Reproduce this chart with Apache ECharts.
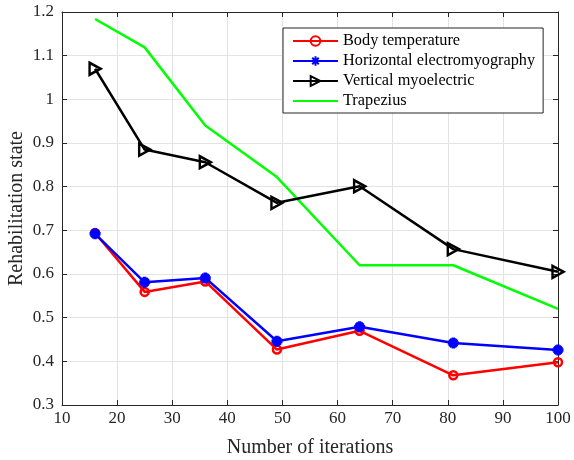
<!DOCTYPE html>
<html>
<head>
<meta charset="utf-8">
<script src="https://cdn.jsdelivr.net/npm/echarts@6/dist/echarts.min.js"></script>
<style>
html,body{margin:0;padding:0;background:#fff;}
#chart{width:574px;height:460px;}
</style>
</head>
<body>
<div id="chart"></div>
<script>
// Iteration counts along the x axis
const iterations = [16, 25, 36, 49, 64, 81, 100];
// Rehabilitation state per signal source
const bodyTemperature = [0.694, 0.559, 0.583, 0.427, 0.470, 0.368, 0.398];
const horizontalEMG   = [0.692, 0.581, 0.591, 0.446, 0.479, 0.442, 0.426];
const verticalEMG     = [1.070, 0.885, 0.856, 0.763, 0.801, 0.657, 0.605];
const trapezius       = [1.184, 1.119, 0.940, 0.822, 0.620, 0.620, 0.520];
const seriesNames = ['Body temperature', 'Horizontal electromyography', 'Vertical myoelectric', 'Trapezius'];

const pairs = ys => iterations.map((x, i) => [x, ys[i]]);
const FONT = '"Liberation Serif", "Times New Roman", serif';
const AXIS = '#262626';

const asterisk = 'path://M5,0L5,10M0,5L10,5M1.6,1.6L8.4,8.4M8.4,1.6L1.6,8.4';
const rightTriangle = 'path://M0,0L10,5L0,10Z';

const gridAxisX = {
  type: 'value', min: 10, max: 100, interval: 10,
  axisLine: {show: true, onZero: false, lineStyle: {color: AXIS, width: 1}},
  axisTick: {show: true, inside: true, length: 5, lineStyle: {color: AXIS}},
};
const gridAxisY = {
  type: 'value', min: 0.3, max: 1.2, interval: 0.1,
  axisLine: {show: true, onZero: false, lineStyle: {color: AXIS, width: 1}},
  axisTick: {show: true, inside: true, length: 5, lineStyle: {color: AXIS}},
};

const chart = echarts.init(document.getElementById('chart'), null, {renderer: 'canvas'});
chart.setOption({
  animation: false,
  backgroundColor: '#ffffff',
  grid: {left: 62, right: 16, top: 12, bottom: 55, containLabel: false, outerBoundsMode: 'none'},
  xAxis: [
    Object.assign({}, gridAxisX, {
      position: 'bottom',
      name: 'Number of iterations', nameLocation: 'middle', nameGap: 33,
      nameMoveOverlap: false,
      nameTextStyle: {fontFamily: FONT, fontSize: 20, color: AXIS},
      axisLabel: {fontFamily: FONT, fontSize: 17, color: AXIS, margin: 5},
      splitLine: {show: true, lineStyle: {color: '#e3e3e3', width: 1}}
    }),
    Object.assign({}, gridAxisX, {
      position: 'top', axisLabel: {show: false}, splitLine: {show: false}
    })
  ],
  yAxis: [
    Object.assign({}, gridAxisY, {
      position: 'left',
      name: 'Rehabilitation state', nameLocation: 'middle', nameGap: 35,
      nameMoveOverlap: false,
      nameTextStyle: {fontFamily: FONT, fontSize: 20, color: AXIS},
      axisLabel: {fontFamily: FONT, fontSize: 17, color: AXIS, margin: 8,
        formatter: v => String(Math.round(v * 10) / 10)},
      splitLine: {show: true, lineStyle: {color: '#e3e3e3', width: 1}}
    }),
    Object.assign({}, gridAxisY, {
      position: 'right', axisLabel: {show: false}, splitLine: {show: false}
    })
  ],
  legend: {
    orient: 'vertical', left: 283, top: 28,
    padding: [5, 8, 4, 9],
    itemWidth: 45, itemHeight: 12, itemGap: 4,
    borderColor: '#262626', borderWidth: 1,
    backgroundColor: '#ffffff',
    textStyle: {fontFamily: FONT, fontSize: 16.3, color: '#000'},
    data: seriesNames
  },
  series: [
    {
      name: seriesNames[0], type: 'line', data: pairs(bodyTemperature),
      symbol: 'circle', symbolSize: 8,
      lineStyle: {color: '#ff0000', width: 2.5},
      itemStyle: {color: 'rgba(255,255,255,0)', borderColor: '#ff0000', borderWidth: 2.5},
      z: 3
    },
    {
      name: seriesNames[1], type: 'line', data: pairs(horizontalEMG),
      symbol: asterisk, symbolSize: 11,
      lineStyle: {color: '#0000ff', width: 2.5},
      itemStyle: {color: '#0000ff', borderColor: '#0000ff', borderWidth: 3.5},
      z: 4
    },
    {
      name: seriesNames[2], type: 'line', data: pairs(verticalEMG),
      symbol: rightTriangle, symbolSize: [11, 12],
      lineStyle: {color: '#000000', width: 2.5},
      itemStyle: {color: 'rgba(255,255,255,0)', borderColor: '#000000', borderWidth: 2.5},
      z: 5
    },
    {
      name: seriesNames[3], type: 'line', data: pairs(trapezius),
      symbol: 'none',
      lineStyle: {color: '#00ff00', width: 2.5},
      itemStyle: {color: 'rgba(0,255,0,0)', borderColor: 'rgba(0,255,0,0)'},
      z: 2
    }
  ]
});
</script>
</body>
</html>
